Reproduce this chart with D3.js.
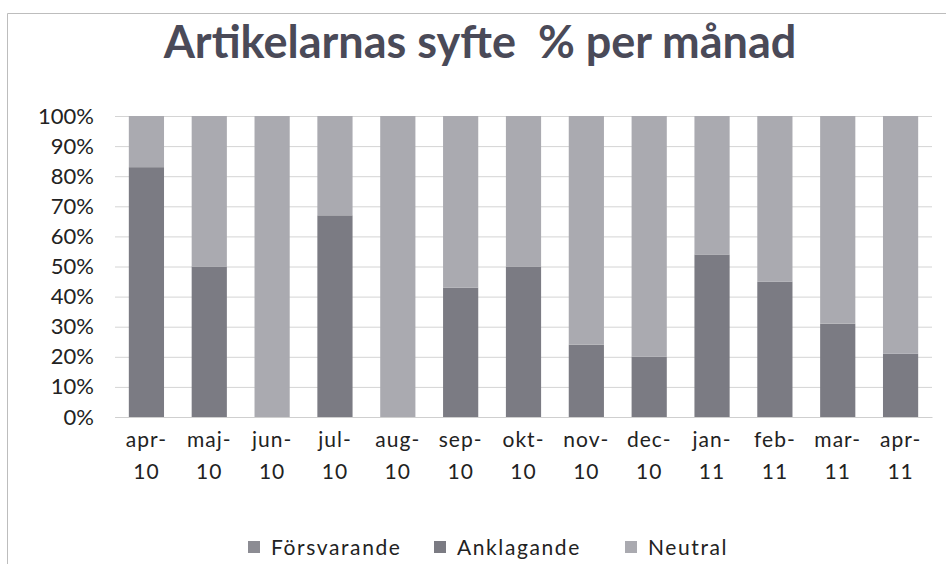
<!DOCTYPE html>
<html><head><meta charset="utf-8">
<script src="https://cdn.jsdelivr.net/npm/d3@7"></script>
<style>body{margin:0;background:#fff}svg{display:block}</style>
</head><body>
<script>
const months = ["apr-|10","maj-|10","jun-|10","jul-|10","aug-|10","sep-|10","okt-|10","nov-|10","dec-|10","jan-|11","feb-|11","mar-|11","apr-|11"];
const forsvarande = [0,0,0,0,0,0,0,0,0,0,0,0,0];
const anklagande = [83,50,0,67,0,43,50,24,20,54,45,31,21];
const neutral = [17,50,100,33,100,57,50,76,80,46,55,69,79];
const seriesNames = ["Försvarande","Anklagande","Neutral"];
const colors = ["#8c8c93","#7b7b83","#aaaab0"];
const yTicks = [0,0.1,0.2,0.3,0.4,0.5,0.6,0.7,0.8,0.9,1];

const W=946,H=564;
const svg=d3.select("body").append("svg").attr("width",W).attr("height",H);
const font="Lato, 'Open Sans', sans-serif";

svg.append("path").attr("d",`M7.5,${H} L7.5,13.5 L${W},13.5`).attr("fill","none").attr("stroke","#bdbdbd").attr("stroke-width",1);

svg.append("text").attr("x",480).attr("y",58).attr("text-anchor","middle").style("white-space","pre")
  .attr("font-family",font).attr("font-weight","bold").attr("font-size",45).attr("fill","#4a4a58")
  .text("Artikelarnas syfte  % per månad");

const x=d3.scaleBand().domain(months).range([115,932]).paddingInner(0.44).paddingOuter(0.22);
const y=d3.scaleLinear().domain([0,1]).range([417,116]);

const data=months.map((m,i)=>{const t=forsvarande[i]+anklagande[i]+neutral[i];return {m,"Försvarande":forsvarande[i]/t,"Anklagande":anklagande[i]/t,"Neutral":neutral[i]/t};});
const stack=d3.stack().keys(seriesNames)(data);

const gy=d3.axisLeft(y).tickValues(yTicks).tickSize(-(932-115)).tickFormat("");
const gg=svg.append("g").attr("transform","translate(115,0)").call(gy);
gg.select(".domain").remove();
gg.selectAll("line").attr("stroke","#d4d4d4");

svg.selectAll("g.s").data(stack).join("g").attr("fill",(d,i)=>colors[i])
  .selectAll("rect").data(d=>d).join("rect")
  .attr("x",d=>x(d.data.m)).attr("width",x.bandwidth())
  .attr("y",d=>y(d[1])).attr("height",d=>y(d[0])-y(d[1]));

const ya=svg.append("g").attr("transform","translate(94,0)").call(d3.axisLeft(y).tickValues(yTicks).tickSize(0).tickPadding(0).tickFormat(d3.format(".0%")));
ya.select(".domain").remove();
ya.selectAll("text").attr("font-family",font).attr("font-size",22).attr("fill","#222");

const xa=svg.append("g").attr("transform","translate(0,417)").call(d3.axisBottom(x).tickSize(0).tickFormat(""));
xa.select(".domain").attr("stroke","#cfcfcf");
xa.selectAll(".tick").each(function(d){
  const p=d.split("|"); const g=d3.select(this);
  g.append("text").attr("y",30).attr("text-anchor","middle").attr("font-family",font).attr("font-size",21).attr("fill","#222").attr("letter-spacing","1px").text(p[0]);
  g.append("text").attr("y",62).attr("text-anchor","middle").attr("font-family",font).attr("font-size",21).attr("fill","#222").attr("letter-spacing","1px").text(p[1]);
});

const lx=[271,457,648];
const lg=svg.append("g");
seriesNames.forEach((n,i)=>{
  lg.append("rect").attr("x",lx[i]-23).attr("y",541).attr("width",12).attr("height",12).attr("fill",colors[i]);
  lg.append("text").attr("x",lx[i]).attr("y",555).attr("font-family",font).attr("font-size",21).attr("fill","#222").attr("letter-spacing","1.6px").text(n);
});
</script>
</body></html>
